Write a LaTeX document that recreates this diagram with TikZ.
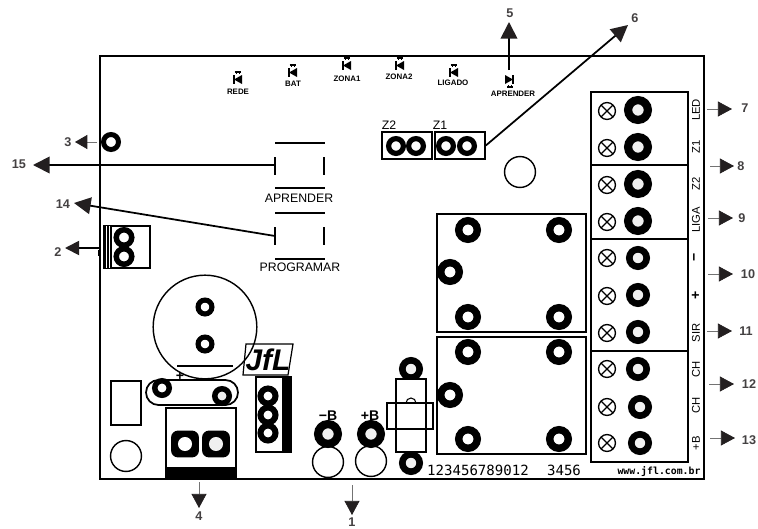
\documentclass[tikz,border=0pt]{standalone}
\usepackage{fontspec}
\setmainfont{Liberation Sans}
\newfontfamily\boardmono{DejaVu Sans Mono}
\usetikzlibrary{arrows.meta,shapes.misc}
\definecolor{inkblack}{HTML}{231F20}
\tikzset{
	pad/.style n args={2}{circle, draw=black, fill=white, inner sep=0pt, minimum size={(#1+#2)*0.569pt}, line width={(#1-#2)*0.569pt}},
	padL/.style={pad={14}{5.8}},
	padM/.style={pad={13}{5.6}},
	padR/.style={pad={12}{5.4}},
	padS/.style={pad={10}{4.8}},
	padT/.style={pad={9.5}{4.4}},
	screw/.style={circle, draw=black, inner sep=0pt, minimum size=15.5pt*0.62, line width=0.75pt,
		path picture={\draw[line width=0.7pt] (path picture bounding box.north west) -- (path picture bounding box.south east)
			(path picture bounding box.north east) -- (path picture bounding box.south west);}},
	hole/.style={circle, draw=black, inner sep=0pt, minimum size=17.6pt, line width=0.8pt},
	box/.style={draw=black, line width=1pt},
	num/.style={font=\fontsize{7.2}{9}\selectfont\bfseries, text=inkblack!85, inner sep=0pt},
	silk/.style={font=\fontsize{7}{8}\selectfont, inner sep=0pt},
	silkb/.style={font=\fontsize{8}{9}\selectfont\bfseries, inner sep=0pt},
	vlabel/.style={font=\fontsize{6.4}{8}\selectfont, inner sep=0pt, rotate=90},
	ledlabel/.style={font=\fontsize{4.5}{6}\selectfont\bfseries, inner sep=0pt},
	thincall/.style={draw=black!55, line width=0.4pt, -{Triangle[length=8pt,width=8.5pt,color=inkblack]}},
	thickcall/.style={draw=black, line width=1pt, -{Triangle[length=9.5pt,width=9.5pt,color=inkblack]}},
	ledmark/.pic={
		\fill[black] (4,-4) -- (4,5) -- (-4,0.5) -- cycle;
		\draw[line width=0.8pt] (-4,-4) -- (-4,5);
		\draw[line width=0.4pt] (-2,-8) -- (-2,-5) (1,-8) -- (1,-5);
		\draw[line width=0.6pt] (-3.5,-7) -- (2.5,-7);
	}
}
\begin{document}
\begin{tikzpicture}[x=0.02cm,y=-0.02cm]
	\useasboundingbox (0,0) rectangle (758,528);
	\fill[white] (0,0) rectangle (758,528);
	% board outline
	\draw[line width=1.2pt] (100,56) rectangle (704,479);

	% leds along the top edge
	\pic at (238,79) {ledmark};
	\pic at (293,72) {ledmark};
	\pic at (347,65) {ledmark};
	\pic at (400,65) {ledmark};
	\pic at (454,72) {ledmark};
	\pic[rotate=180] at (509,80) {ledmark};
	\node (REDE) at (238,92)	[ledlabel]	{REDE};
	\node (BAT) at (293,84)		[ledlabel]	{BAT};
	\node (ZONA1) at (347,79)	[ledlabel]	{ZONA1};
	\node (ZONA2) at (399,77)	[ledlabel]	{ZONA2};
	\node (LIGADO) at (453,83)	[ledlabel]	{LIGADO};
	\node (APR) at (513,94)		[ledlabel]	{APRENDER};

	% jumpers
	\node (Z2) at (407,145.5)	[box, minimum width=28.4pt, minimum height=15.3pt, inner sep=0pt]	{};
	\node (Z1) at (460,145.5)	[box, minimum width=28.4pt, minimum height=15.3pt, inner sep=0pt]	{};
	\node (PZ21) at (396,146)	[padS]	{};
	\node (PZ22) at (416,146)	[padS]	{};
	\node (PZ11) at (446,146)	[padS]	{};
	\node (PZ12) at (467,146)	[padS]	{};
	\node (LZ2) at (389,125)	[silk]	{Z2};
	\node (LZ1) at (440,125)	[silk]	{Z1};
	\node (H1) at (520,172)		[hole]	{};

	% push buttons
	\draw[line width=0.8pt] (275,143) -- (325,143) (275,157) -- (275,175) (324,157) -- (324,175) (275,188) -- (325,188);
	\draw[line width=0.8pt] (275,213) -- (325,213) (275,227) -- (275,245) (324,227) -- (324,245) (275,259) -- (325,259);
	\node (APRENDER) at (299,198)	[silk]	{APRENDER};
	\node (PROGRAMAR) at (300,267)	[silk]	{PROGRAMAR};

	% left side
	\node (P3) at (111,142)		[pad={10}{5}]	{};
	\draw[box] (104,226) rectangle (150,268);
	\fill[black] (104,226) rectangle (112,268);
	\draw[white, line width=0.25pt] (106.5,226) -- (106.5,268) (109,226) -- (109,268);
	\fill[black] (98,250) rectangle (100,256);
	\node (P2A) at (124,237.5)	[pad={10.5}{5}]	{};
	\node (P2B) at (124,256.5)	[pad={10.5}{5}]	{};

	% capacitor
	\node (CAP) at (205,327)	[circle, draw=black, inner sep=0pt, minimum size=59pt, line width=0.8pt]	{};
	\draw[line width=0.8pt] (177,366) -- (233,366);
	\node (PC1) at (205,307)	[padT]	{};
	\node (PC2) at (205,344)	[padT]	{};
	\node (PLUS) at (180,376)	[silkb]	{+};

	% lower left parts
	\draw[box] (111,381) rectangle (141,425);
	\node (H2) at (126,456)		[hole]	{};
	\draw[box, rounded corners=12.5*0.569pt] (146,380) rectangle (238,405);
	\node (PO1) at (162,388)	[pad={10}{4.5}]	{};
	\node (PO2) at (222,396)	[pad={10}{4.5}, fill=black!6]	{};

	% power terminal
	\draw[box] (166,408) rectangle (236,479);
	\fill[black] (166,467) rectangle (236,480);
	\node (PT1) at (185,444)	[rounded corners=4pt, fill=black, minimum width=15.9pt, minimum height=15.3pt, inner sep=0pt]	{};
	\node (PT2) at (216,444)	[rounded corners=4pt, fill=black, minimum width=15.9pt, minimum height=15.3pt, inner sep=0pt]	{};
	\node (PT1C) at (185,444)	[circle, fill=white, minimum size=8pt, inner sep=0pt]	{};
	\node (PT2C) at (216,444)	[circle, fill=black!6, minimum size=8pt, inner sep=0pt]	{};

	% logo and header
	\draw[box, line width=0.7pt] (246,344) -- (293,344) -- (288,375) -- (243,375) -- cycle;
	\node (LOGO) at (268,360)	[font=\fontsize{17}{17}\selectfont\bfseries\itshape, inner sep=0pt]	{JfL};
	\draw[box] (256,377) rectangle (291,452);
	\fill[black] (282,377) rectangle (291,453);
	\node (PH1) at (268,396)	[pad={10.5}{4.5}]	{};
	\node (PH2) at (268,415)	[pad={10.5}{4.5}]	{};
	\node (PH3) at (268,433)	[pad={10.5}{4.5}]	{};

	% battery pads
	\node (PB1) at (328,434)	[padL, fill=black!6]	{};
	\node (PB2) at (371,434)	[padL, fill=black!6]	{};
	\node (LB1) at (328,416)	[silkb]	{−B};
	\node (LB2) at (370,416)	[silkb]	{+B};
	\node (H3) at (328,462)		[hole]	{};
	\node (H4) at (371,461)		[hole]	{};

	% transistor
	\node (PQ1) at (411,369)	[padR, fill=black!6]	{};
	\node (PQ2) at (411,463)	[padR, fill=black!6]	{};
	\draw[box, fill=white] (396,379) rectangle (426,452);
	\draw[box] (387,403) rectangle (433,429);
	\draw[line width=0.6pt] (406,403) arc[start angle=180, end angle=360, radius=5];

	% relays
	\draw[box] (437,214) rectangle (586,332);
	\draw[box] (437,337) rectangle (586,454);
	\node (R1A) at (468,230)	[padM]	{};
	\node (R1B) at (559,230)	[padM]	{};
	\node (R1C) at (450,272)	[padM]	{};
	\node (R1D) at (468,317)	[padM]	{};
	\node (R1E) at (559,317)	[padM]	{};
	\node (R2A) at (468,352)	[padM]	{};
	\node (R2B) at (559,352)	[padM]	{};
	\node (R2C) at (450,395)	[padM]	{};
	\node (R2D) at (468,439)	[padM]	{};
	\node (R2E) at (559,439)	[padM]	{};

	% terminal blocks
	\draw[box] (591,92) rectangle (688,165);
	\draw[box] (591,165) rectangle (688,239);
	\draw[box] (591,239) rectangle (688,351);
	\draw[box] (591,351) rectangle (688,462);
	\node (S1) at (607,111)		[screw]	{};
	\node (S2) at (607,148)		[screw]	{};
	\node (S3) at (607,185)		[screw]	{};
	\node (S4) at (607,222)		[screw]	{};
	\node (S5) at (607,258)		[screw]	{};
	\node (S6) at (607,296)		[screw]	{};
	\node (S7) at (607,333)		[screw]	{};
	\node (S8) at (607,369)		[screw]	{};
	\node (S9) at (607,407)		[screw]	{};
	\node (S10) at (607,443)	[screw]	{};
	\node (T1) at (638,110)		[padL, fill=black!6]	{};
	\node (T2) at (638,147)		[padL, fill=black!6]	{};
	\node (T3) at (638,184)		[padL, fill=black!6]	{};
	\node (T4) at (638,221)		[padL, fill=black!6]	{};
	\node (T5) at (638,258)		[padR, fill=black!6]	{};
	\node (T6) at (638,295)		[padR, fill=black!6]	{};
	\node (T7) at (638,332)		[padR, fill=black!6]	{};
	\node (T8) at (638,369)		[padR, fill=black!6]	{};
	\node (T9) at (640,407)		[padR, fill=black!6]	{};
	\node (T10) at (640,443)	[padR, fill=black!6]	{};
	\node (VLED) at (696,110)	[vlabel]	{LED};
	\node (VZ1) at (696,147)	[vlabel]	{Z1};
	\node (VZ2) at (696,184)	[vlabel]	{Z2};
	\node (VLIGA) at (696,220)	[vlabel]	{LIGA};
	\node (VMIN) at (696,257)	[vlabel, font=\fontsize{8}{8}\selectfont\bfseries]	{−};
	\node (VPLUS) at (696,295)	[vlabel, font=\fontsize{8}{8}\selectfont\bfseries]	{+};
	\node (VSIR) at (696,333)	[vlabel]	{SIR};
	\node (VCH1) at (696,369)	[vlabel]	{CH};
	\node (VCH2) at (696,405)	[vlabel]	{CH};
	\node (VB) at (696,443)		[vlabel]	{+B};

	% printed along the bottom edge
	\node (SERIAL) at (478,470)	[font=\boardmono\fontsize{8}{9}\selectfont, inner sep=0pt]	{123456789012};
	\node (SERIALB) at (564,470)	[font=\boardmono\fontsize{8}{9}\selectfont, inner sep=0pt]	{3456};
	\node (WWW) at (659,472)	[font=\boardmono\bfseries\fontsize{5.6}{7}\selectfont, inner sep=0pt]	{www.jfl.com.br};

	% callout numbers
	\node (N1) at (352,522)		[num]	{1};
	\node (N2) at (58,252)		[num]	{2};
	\node (N3) at (68,142)		[num]	{3};
	\node (N4) at (199,516)		[num]	{4};
	\node (N5) at (510,13)		[num]	{5};
	\node (N6) at (635,18)		[num]	{6};
	\node (N7) at (745,108)		[num]	{7};
	\node (N8) at (741,166)		[num]	{8};
	\node (N9) at (742,218)		[num]	{9};
	\node (N10) at (748,274)	[num]	{10};
	\node (N11) at (746,331)	[num]	{11};
	\node (N12) at (749,384)	[num]	{12};
	\node (N13) at (749,440)	[num]	{13};
	\node (N14) at (63,204)		[num]	{14};
	\node (N15) at (19,164)		[num]	{15};

	% callout arrows
	\coordinate (A1) at (352,485);	\coordinate (E1) at (352,515);
	\coordinate (A2) at (100,248);	\coordinate (E2) at (65,248);
	\coordinate (A3) at (97,142);	\coordinate (E3) at (75,142);
	\coordinate (A4) at (199,482);	\coordinate (E4) at (199,508);
	\coordinate (A5) at (509,70);	\coordinate (E5) at (509,22);
	\coordinate (E6) at (628,25);
	\coordinate (A7) at (707,109);	\coordinate (E7) at (732,109);
	\coordinate (A8) at (710,166);	\coordinate (E8) at (734,166);
	\coordinate (A9) at (708,218);	\coordinate (E9) at (733,218);
	\coordinate (A10) at (708,274);	\coordinate (E10) at (733,274);
	\coordinate (A11) at (707,331);	\coordinate (E11) at (732,331);
	\coordinate (A12) at (709,384);	\coordinate (E12) at (734,384);
	\coordinate (A13) at (710,438);	\coordinate (E13) at (735,438);
	\coordinate (A14) at (275,236);	\coordinate (E14) at (74,203);
	\coordinate (A15) at (275,165);	\coordinate (E15) at (33,165);
	\draw[thincall] (A1) -- (E1);
	\draw[thickcall, -{Triangle[length=8pt,width=8pt,color=inkblack]}] (A2) -- (E2);
	\draw[thincall, -{Triangle[length=7pt,width=8pt,color=inkblack]}] (A3) -- (E3);
	\draw[thincall] (A4) -- (E4);
	\draw[thickcall] (A5) -- (E5);
	\draw[thickcall] (Z1.east) -- (E6);
	\draw[thincall] (A7) -- (E7);
	\draw[thincall] (A8) -- (E8);
	\draw[thincall] (A9) -- (E9);
	\draw[thincall] (A10) -- (E10);
	\draw[thincall] (A11) -- (E11);
	\draw[thincall] (A12) -- (E12);
	\draw[thincall] (A13) -- (E13);
	\draw[thickcall] (A14) -- (E14);
	\draw[thickcall] (A15) -- (E15);
\end{tikzpicture}
\end{document}
